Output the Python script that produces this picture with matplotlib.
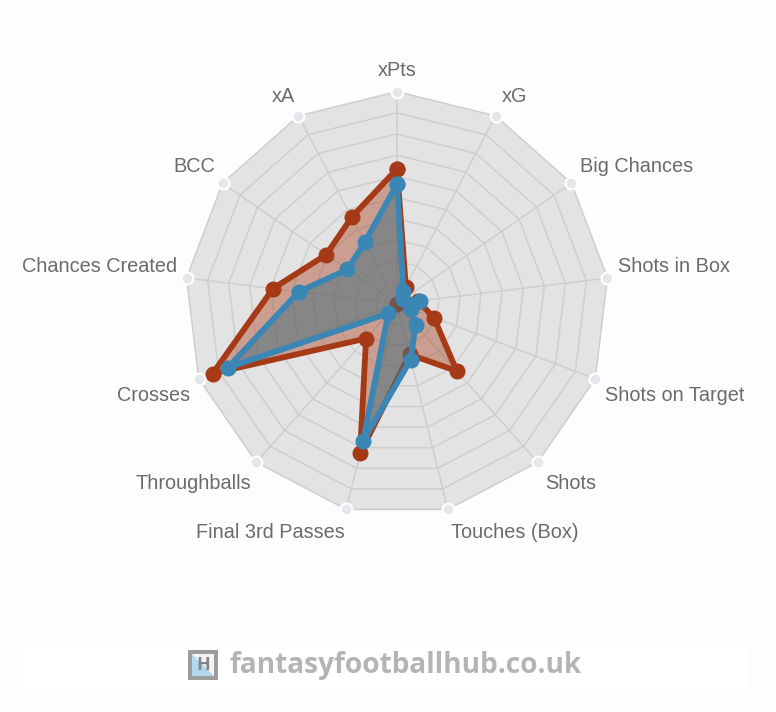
#!/usr/bin/env python3
import numpy as np
import matplotlib
matplotlib.use('Agg')
import matplotlib.pyplot as plt
from matplotlib.patches import Rectangle, Polygon

W, H = 776, 712
labels = ['xPts', 'xG', 'Big Chances', 'Shots in Box', 'Shots on Target', 'Shots',
          'Touches (Box)', 'Final 3rd Passes', 'Throughballs', 'Crosses',
          'Chances Created', 'BCC', 'xA']
red_vals = [0.635, 0.09, 0.0, 0.10, 0.186, 0.425, 0.247, 0.728, 0.22, 0.93, 0.589, 0.406, 0.46]
blue_vals = [0.564, 0.065, 0.035, 0.11, 0.073, 0.132, 0.272, 0.666, 0.062, 0.853, 0.466, 0.284, 0.327]
rings = [0.1, 0.2, 0.3, 0.4, 0.5, 0.6, 0.7, 0.8, 0.9, 1.0]

# label offset from its outer vertex in px (x right, y down) and alignment
label_off = [(0, -23, 'center'), (6, -21, 'left'), (9, -19, 'left'), (11, -14, 'left'),
             (10, 15, 'left'), (8, 19, 'left'), (3, 21, 'left'), (-2, 21, 'right'),
             (-5, 19, 'right'), (-9, 15, 'right'), (-9, -14, 'right'), (-7, -19, 'right'),
             (-3, -21, 'right')]

RED = '#a63a16'
BLUE = '#3a86b5'
GRID = '#cecece'
TXT = '#6b6b6b'

cx, cy, R = 397, 303.6, 212

fig = plt.figure(figsize=(W / 100, H / 100), dpi=100, facecolor='#fdfdfd')
ax = fig.add_axes([(cx - R) / W, 1 - (cy + R) / H, 2 * R / W, 2 * R / H], projection='polar')
ax.set_theta_zero_location('N')
ax.set_theta_direction(-1)
ax.set_ylim(0, 1)
ax.axis('off')

theta = np.arange(len(labels)) * 2 * np.pi / len(labels)
t_closed = np.append(theta, theta[0])


def closed(v):
    return np.append(v, v[0])


# background and grid
ax.fill(t_closed, np.ones(len(t_closed)), color='#e3e3e3', lw=0, clip_on=False, zorder=1)
for r in rings:
    ax.plot(t_closed, np.full(len(t_closed), r), color=GRID, lw=1.1, clip_on=False, zorder=2)
for t in theta:
    ax.plot([t, t], [0, 1], color=GRID, lw=1.1, clip_on=False, zorder=2)

# series, red first and blue over it
ax.fill(t_closed, closed(red_vals), color=RED, alpha=0.4, lw=0, zorder=3)
ax.plot(t_closed, closed(red_vals), color=RED, lw=4.2, marker='o', ms=10.5,
        solid_joinstyle='round', clip_on=False, zorder=4)
ax.fill(t_closed, closed(blue_vals), color='#436f7d', alpha=0.5, lw=0, zorder=5)
ax.plot(t_closed, closed(blue_vals), color=BLUE, lw=4.2, marker='o', ms=10.5,
        solid_joinstyle='round', clip_on=False, zorder=6)

# white ringed dots at the outer vertices
ax.plot(theta, np.ones(len(theta)), ls='none', marker='o', ms=8.5, mfc='#e6e6ec', mec='white',
        mew=1.5, clip_on=False, zorder=7)

for t, name, (dx, dy, ha) in zip(theta, labels, label_off):
    ax.annotate(name, xy=(t, 1), xytext=(dx * 0.72, -(dy + 2) * 0.72), textcoords='offset points',
                ha=ha, va='center', fontsize=14.3, color=TXT, family='Liberation Sans',
                annotation_clip=False, zorder=8)


# watermark band, in figure pixels
def box(x, y, w, h, **kw):
    fig.add_artist(Rectangle((x / W, 1 - (y + h) / H), w / W, h / H, transform=fig.transFigure, lw=0, **kw))


box(22, 643, 726, 47, color='white')
box(188, 650, 30, 30, color='#9c9c9c')
box(192, 654, 22, 22, color='#f2f4f6')
fig.add_artist(Polygon([(192 / W, 1 - 654 / H), (192 / W, 1 - 676 / H), (214 / W, 1 - 676 / H)],
                       transform=fig.transFigure, color='#b3d8ee', lw=0))
fig.text(203 / W, 1 - 665.5 / H, 'H', ha='center', va='center', fontsize=13, color='#858585',
         family='Open Sans', weight='bold')
fig.text(229 / W, 1 - 666 / H, 'fantasyfootballhub.co.uk', ha='left', va='center', fontsize=20.2,
         color='#b4b4b4', family='Open Sans', weight='bold')

fig.savefig('out.png', dpi=100, facecolor=fig.get_facecolor())
